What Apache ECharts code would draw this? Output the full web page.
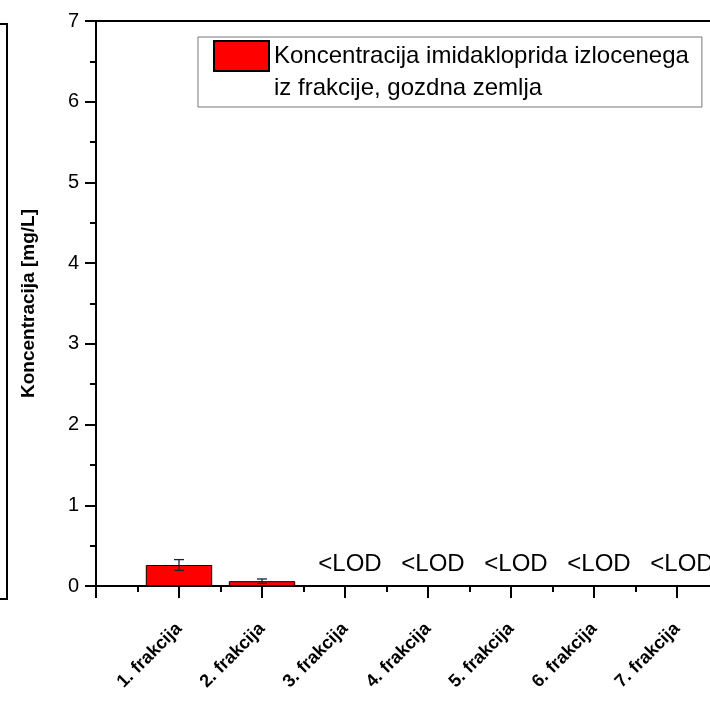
<!DOCTYPE html>
<html><head><meta charset="utf-8">
<script src="https://cdn.jsdelivr.net/npm/echarts@6/dist/echarts.min.js"></script>
<style>html,body{margin:0;padding:0;background:#fff}#c{width:710px;height:701px}</style>
</head><body><div id="c"></div>
<script>
const categories = ['1. frakcija','2. frakcija','3. frakcija','4. frakcija','5. frakcija','6. frakcija','7. frakcija'];
const concentration = [0.26, 0.06, 0, 0, 0, 0, 0];
const errors = [0.067, 0.027, 0, 0, 0, 0, 0];
const belowLOD = [false, false, true, true, true, true, true];
const yMin = 0, yMax = 7, yStep = 1;
const seriesName = 'Koncentracija imidakloprida izlocenega\niz frakcije, gozdna zemlja';
const yAxisName = 'Koncentracija [mg/L]';
const lodText = '<LOD';
const FONT = '"Liberation Sans", Arial, Helvetica, sans-serif';

const barData = categories.map((c, i) => [i + 1, concentration[i]]);
const errData = categories.map((c, i) => [i + 1, concentration[i] - errors[i], concentration[i] + errors[i]]);

const chart = echarts.init(document.getElementById('c'), null, {renderer: 'canvas'});
chart.setOption({
  animation: false,
  backgroundColor: '#fff',
  textStyle: {fontFamily: FONT, color: '#000'},
  grid: {left: 96, top: 21, right: -50, bottom: 115, show: true, borderColor: '#000', borderWidth: 2,
         containLabel: false, outerBoundsMode: 'none'},
  legend: {
    data: [{name: seriesName, icon: 'path://M0,0H55V30H0Z M55,62'}],
    left: 198, top: 37, orient: 'vertical',
    itemWidth: 55, itemHeight: 62,
    padding: [3, 13, 3, 15],
    borderColor: '#777', borderWidth: 1, backgroundColor: '#fff',
    selectedMode: false,
    textStyle: {fontFamily: FONT, fontSize: 24, lineHeight: 32, color: '#000'}
  },
  xAxis: {
    type: 'value', min: 0, max: categories.length + 1, interval: 1,
    splitLine: {show: false},
    axisLine: {show: true, lineStyle: {color: '#000', width: 2}},
    axisTick: {show: true, length: 12, lineStyle: {color: '#000', width: 2}},
    minorTick: {show: true, splitNumber: 2, length: 6, lineStyle: {color: '#000', width: 2}},
    axisLabel: {
      formatter: v => categories[v - 1] || '',
      rotate: 45, margin: 40, fontSize: 18, fontWeight: 'bold', color: '#000', fontFamily: FONT,
      showMinLabel: true, showMaxLabel: true
    }
  },
  yAxis: {
    type: 'value', min: yMin, max: yMax, interval: yStep,
    name: yAxisName, nameLocation: 'middle', nameGap: 58,
    nameTextStyle: {fontSize: 19, fontWeight: 'bold', color: '#000', fontFamily: FONT},
    splitLine: {show: false},
    axisLine: {show: true, lineStyle: {color: '#000', width: 2}},
    axisTick: {show: true, length: 11, lineStyle: {color: '#000', width: 2}},
    minorTick: {show: true, splitNumber: 2, length: 6, lineStyle: {color: '#000', width: 2}},
    axisLabel: {margin: 17, fontSize: 20, color: '#000', fontFamily: FONT}
  },
  graphic: [{
    type: 'polyline', silent: true,
    shape: {points: [[0, 24], [7, 24], [7, 599], [0, 599]]},
    style: {stroke: '#000', lineWidth: 2, fill: null}
  }],
  series: [{
    type: 'bar', name: seriesName, data: barData, barWidth: '80%',
    itemStyle: {color: '#ff0000', borderColor: '#000', borderWidth: 1},
    label: {
      show: true, position: 'top', distance: 9, offset: [5, 0],
      formatter: p => belowLOD[p.dataIndex] ? lodText : '',
      fontSize: 24, color: '#000', fontFamily: FONT
    }
  }, {
    type: 'custom', name: 'err', data: errData, z: 3,
    renderItem: (params, api) => {
      const x = api.value(0), lo = api.value(1), hi = api.value(2);
      if (!(hi - lo > 0)) return null;
      const a = api.coord([x, lo]), b = api.coord([x, hi]);
      const h = 5, st = {stroke: '#222', lineWidth: 1.3};
      return {type: 'group', children: [
        {type: 'line', shape: {x1: a[0], y1: a[1], x2: b[0], y2: b[1]}, style: st},
        {type: 'line', shape: {x1: a[0] - h, y1: a[1], x2: a[0] + h, y2: a[1]}, style: st},
        {type: 'line', shape: {x1: b[0] - h, y1: b[1], x2: b[0] + h, y2: b[1]}, style: st}
      ]};
    }
  }]
});
</script></body></html>
